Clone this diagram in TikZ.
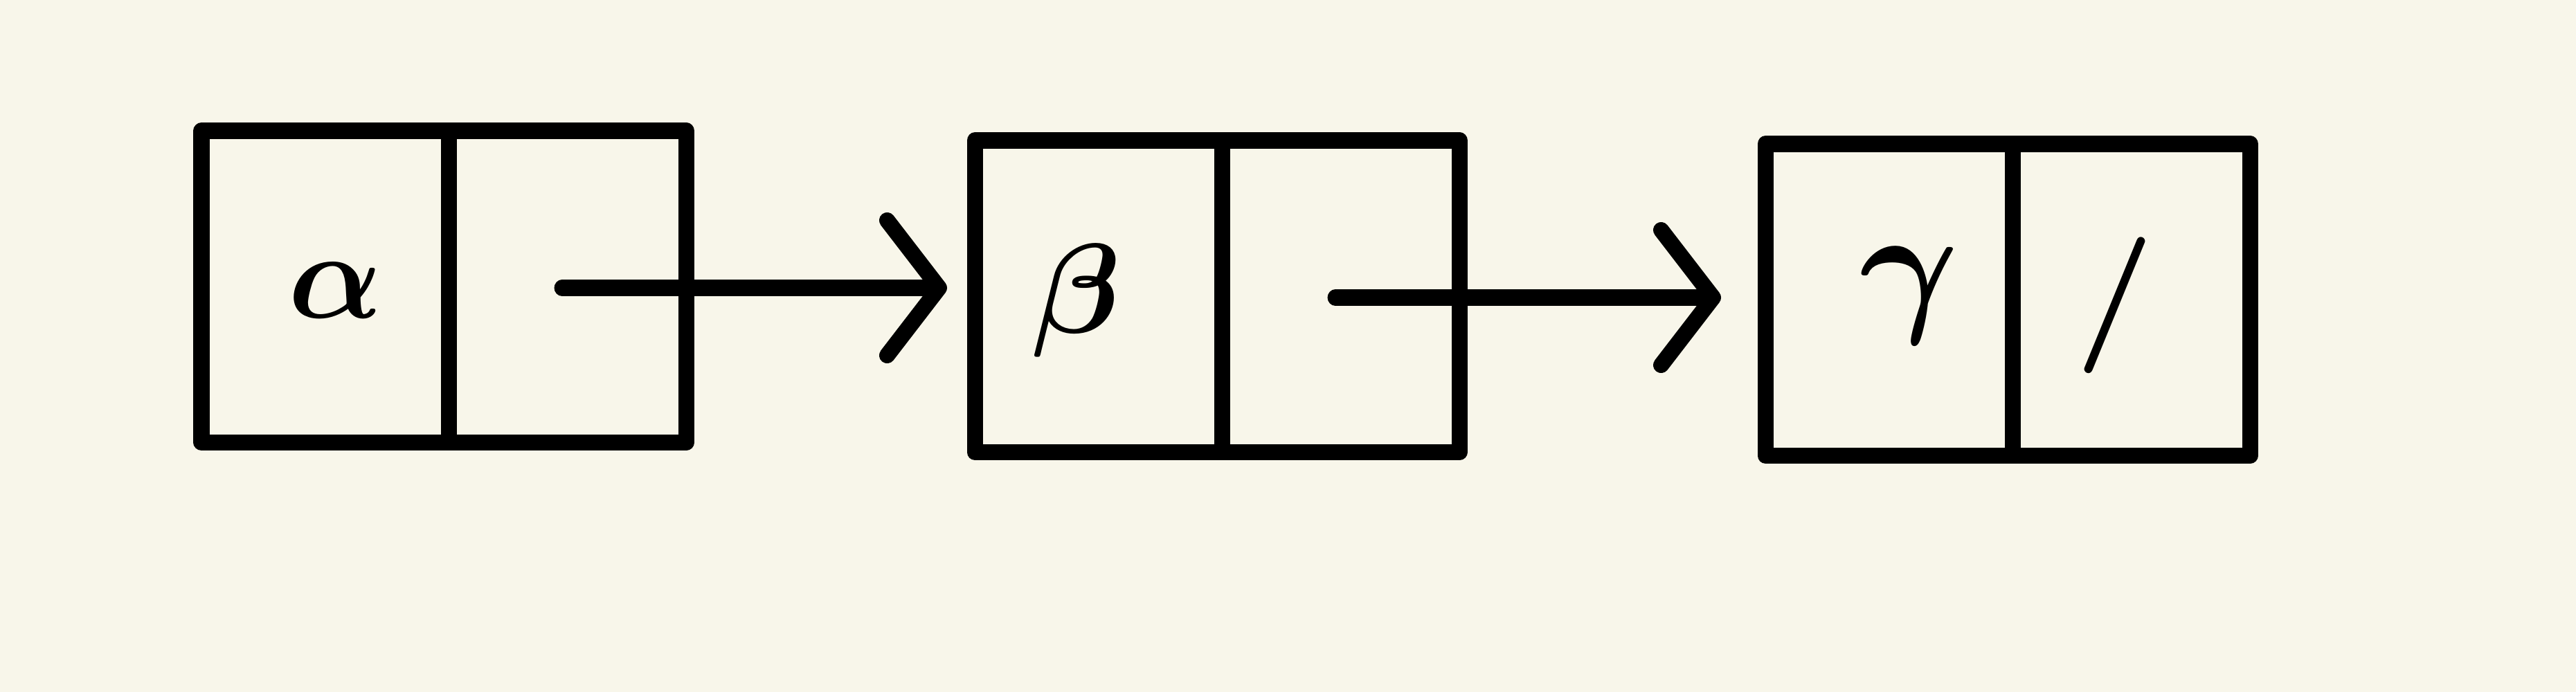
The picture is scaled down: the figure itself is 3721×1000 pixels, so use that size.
\documentclass[tikz,border=0pt]{standalone}
\usetikzlibrary{arrows.meta}
\definecolor{bg}{RGB}{248,246,234}
\begin{document}
\begin{tikzpicture}[x=0.01cm,y=-0.01cm,
  cell/.style={draw=black, line width=0.23cm, line join=round, minimum height=4.5cm,
               inner sep=0pt, outer sep=0pt, anchor=north west},
  lcell/.style={cell, minimum width=3.57cm},
  rcell/.style={cell, minimum width=3.43cm},
  link/.style={line width=0.23cm, line cap=round,
               -{Straight Barb[length=0.75cm,width=1.95cm,round]}},
  glyph/.style={inner sep=0pt, font=\Huge}]
\fill[bg] (0,0) rectangle (3721,1000);
\useasboundingbox (0,0) rectangle (3721,1000);
% list element 1
\node[lcell] (a1) at (291,189) {};
\node[rcell] (a2) at (a1.north east) {};
% list element 2
\node[lcell] (b1) at (1408,203) {};
\node[rcell] (b2) at (b1.north east) {};
% list element 3
\node[lcell] (c1) at (2550,208) {};
\node[rcell] (c2) at (c1.north east) {};
% contents
\node[glyph] (ta) at (485,420) {\scalebox{2.05}{\boldmath$\alpha$}};
\node[glyph] (tb) at (1555,435) {\scalebox{2.1}{\boldmath$\beta$}};
\node[glyph] (tc) at (2758,427) {\scalebox{2.5}{\boldmath$\gamma$}};
\node[glyph] (tn) at (3055,441) {\scalebox{2.25}{\boldmath$/$}};
% pointers
\coordinate (p1s) at (812,416);
\coordinate (p1e) at (1368,416);
\coordinate (p2s) at (1929,430);
\coordinate (p2e) at (2486,430);
\draw[link] (p1s) -- (p1e);
\draw[link] (p2s) -- (p2e);
\end{tikzpicture}
\end{document}
